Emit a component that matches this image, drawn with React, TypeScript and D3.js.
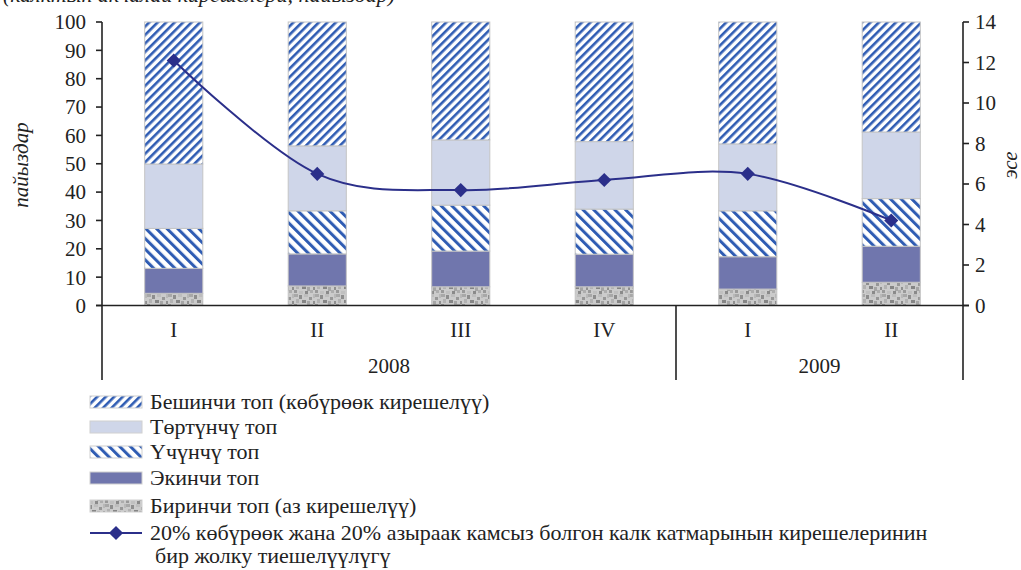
import React from "react";
import * as d3 from "d3";

const width = 1021;
const height = 570;
const plot = { left: 102, right: 963, top: 22, bottom: 305.5 };

// categories
const quarters = ["I", "II", "III", "IV", "I", "II"];
const years = [
  { label: "2008", span: 4 },
  { label: "2009", span: 2 },
];

// shares by quintile, percent (bottom to top)
const group1 = [4.3, 6.9, 6.6, 6.6, 5.8, 8.2];
const group2 = [8.8, 11.3, 12.6, 11.5, 11.4, 12.7];
const group3 = [14.1, 15.2, 16.2, 15.9, 16.2, 16.8];
const group4 = [22.7, 22.9, 23.0, 23.8, 23.6, 23.5];
const group5 = [50.1, 43.7, 41.6, 42.2, 43.0, 38.8];

// top 20% / bottom 20% income ratio, times
const ratio = [12.1, 6.5, 5.7, 6.2, 6.5, 4.2];

const leftTicks = [0, 10, 20, 30, 40, 50, 60, 70, 80, 90, 100];
const rightTicks = [0, 2, 4, 6, 8, 10, 12, 14];

const keys = ["g1", "g2", "g3", "g4", "g5"];
const fills = {
  g1: "url(#granite)",
  g2: "#7076ad",
  g3: "url(#stripeBack)",
  g4: "#cfd6e9",
  g5: "url(#stripeFwd)",
};

const legendItems = [
  { key: "g5", text: "Бешинчи топ (көбүрөөк кирешелүү)" },
  { key: "g4", text: "Төртүнчү топ" },
  { key: "g3", text: "Үчүнчү топ" },
  { key: "g2", text: "Экинчи топ" },
  { key: "g1", text: "Биринчи топ (аз кирешелүү)" },
];
const lineLegend = [
  "20% көбүрөөк жана 20% азыраак камсыз болгон калк катмарынын кирешелеринин",
  "бир жолку тиешелүүлүгү",
];

const font = "'Liberation Serif', 'Times New Roman', serif";
const lineColor = "#2b2f8a";

// granite texture pieces (fixed)
const granite = [
  [0, 0, 4, 3, "#a8a8a8"], [5, 1, 3, 4, "#8e8e8e"], [10, 0, 4, 3, "#bdbdbd"],
  [15, 3, 3, 3, "#979797"], [2, 5, 3, 4, "#b2b2b2"], [8, 6, 4, 3, "#858585"],
  [13, 7, 3, 4, "#a5a5a5"], [0, 10, 3, 3, "#999"], [5, 11, 4, 3, "#c0c0c0"],
  [11, 11, 3, 3, "#8a8a8a"], [16, 10, 3, 3, "#adadad"], [19, 0, 2, 4, "#b8b8b8"],
  [19, 7, 2, 3, "#8f8f8f"],
];

export default function App() {
  const rows = quarters.map((q, i) => ({
    g1: group1[i], g2: group2[i], g3: group3[i], g4: group4[i], g5: group5[i],
  }));
  const series = d3.stack().keys(keys)(rows as any);

  const x = d3
    .scaleBand()
    .domain(quarters.map((_, i) => String(i)))
    .range([plot.left, plot.right])
    .paddingInner(0.595)
    .paddingOuter(0.2975);
  const band = (plot.right - plot.left) / quarters.length;
  const y = d3.scaleLinear().domain([0, 100]).range([plot.bottom, plot.top]);
  const y2 = d3.scaleLinear().domain([0, 14]).range([plot.bottom, plot.top]);

  const line = d3
    .line<number>()
    .x((_, i) => (x(String(i)) as number) + x.bandwidth() / 2)
    .y((d) => y2(d))
    .curve(d3.curveCardinal.tension(0));

  const axisBottom = 380;
  let acc = 0;
  const yearPos = years.map((yr) => {
    const start = acc;
    acc += yr.span;
    return { ...yr, start, end: acc };
  });

  const legendX = 90;
  const legendRows = [402, 427, 452, 478, 506];

  return (
    <div style={{ position: "absolute", left: 0, top: 0 }}>
      <svg width={width} height={height} style={{ display: "block", background: "#fff" }}>
        <defs>
          <pattern id="stripeFwd" patternUnits="userSpaceOnUse" width="6" height="6" patternTransform="rotate(45)">
            <rect width="6" height="6" fill="#fff" />
            <rect width="2.6" height="6" fill="#2f5cb3" />
          </pattern>
          <pattern id="stripeBack" patternUnits="userSpaceOnUse" width="7.5" height="7.5" patternTransform="rotate(-45)">
            <rect width="7.5" height="7.5" fill="#fff" />
            <rect width="3" height="7.5" fill="#2f5cb3" />
          </pattern>
          <pattern id="granite" patternUnits="userSpaceOnUse" width="21" height="14">
            <rect width="21" height="14" fill="#cbcbcb" />
            {granite.map((g, i) => (
              <rect key={i} x={g[0] as number} y={g[1] as number} width={g[2] as number} height={g[3] as number} fill={g[4] as string} />
            ))}
          </pattern>
        </defs>

        {/* title, cut off at the top edge as in the source */}
        <text x={3} y={2} fontFamily={font} fontStyle="italic" fontSize={22} fill="#222">
          (калктын акчалай кирешелери, пайыздар)
        </text>

        {/* bars */}
        {series.map((s) => (
          <g key={s.key}>
            {s.map((d, i) => (
              <rect
                key={i}
                x={x(String(i))}
                y={y(d[1])}
                width={x.bandwidth()}
                height={y(d[0]) - y(d[1])}
                fill={fills[s.key]}
                stroke="#c4c4c4"
                strokeWidth={1}
              />
            ))}
          </g>
        ))}

        {/* ratio line */}
        <path d={line(ratio) || ""} fill="none" stroke={lineColor} strokeWidth={2} />
        {ratio.map((v, i) => {
          const cx = (x(String(i)) as number) + x.bandwidth() / 2;
          return (
            <rect key={i} x={cx - 5} y={y2(v) - 5} width={10} height={10} fill={lineColor}
              transform={`rotate(45 ${cx} ${y2(v)})`} />
          );
        })}

        {/* axes */}
        <g stroke="#222" strokeWidth={1.6}>
          <line x1={plot.left} x2={plot.left} y1={plot.top} y2={axisBottom} />
          <line x1={plot.right} x2={plot.right} y1={plot.top} y2={axisBottom} />
          <line x1={plot.left - 6} x2={plot.right + 6} y1={plot.bottom} y2={plot.bottom} />
          <line x1={plot.left + 4 * band} x2={plot.left + 4 * band} y1={plot.bottom} y2={axisBottom} />
          {leftTicks.map((t) => (
            <line key={t} x1={plot.left - 6} x2={plot.left} y1={y(t)} y2={y(t)} />
          ))}
          {rightTicks.map((t) => (
            <line key={t} x1={plot.right} x2={plot.right + 6} y1={y2(t)} y2={y2(t)} />
          ))}
        </g>
        <g fontFamily={font} fontSize={21} fill="#222">
          {leftTicks.map((t) => (
            <text key={t} x={86} y={y(t)} dy="0.35em" textAnchor="end">{t}</text>
          ))}
          {rightTicks.map((t) => (
            <text key={t} x={975} y={y2(t)} dy="0.35em">{t}</text>
          ))}
          {quarters.map((q, i) => (
            <text key={i} x={(x(String(i)) as number) + x.bandwidth() / 2} y={337} textAnchor="middle">{q}</text>
          ))}
          {yearPos.map((yr) => (
            <text key={yr.label} x={plot.left + ((yr.start + yr.end) / 2) * band} y={373} textAnchor="middle">{yr.label}</text>
          ))}
        </g>
        <text transform={`translate(28,165) rotate(-90)`} textAnchor="middle" fontFamily={font} fontStyle="italic" fontSize={21} fill="#222">
          пайыздар
        </text>
        <text transform={`translate(1017,165) rotate(-90)`} textAnchor="middle" fontFamily={font} fontStyle="italic" fontSize={21} fill="#222">
          эсе
        </text>

        {/* legend */}
        <g fontFamily={font} fontSize={20} fill="#222">
          {legendItems.map((it, i) => (
            <g key={it.key}>
              <rect x={legendX} y={legendRows[i] - 6} width={52} height={12} fill={fills[it.key]} stroke="#d0d0d0" strokeWidth={1} />
              <text transform={`translate(150,${legendRows[i]}) scale(1.1,1)`} dy="0.35em">{it.text}</text>
            </g>
          ))}
          <line x1={legendX} x2={legendX + 52} y1={533} y2={533} stroke={lineColor} strokeWidth={2} />
          <rect x={legendX + 21} y={528} width={10} height={10} fill={lineColor} transform={`rotate(45 ${legendX + 26} 533)`} />
          <text transform="translate(150,533) scale(1.1,1)" dy="0.35em">{lineLegend[0]}</text>
          <text transform="translate(155,556) scale(1.1,1)" dy="0.35em">{lineLegend[1]}</text>
        </g>
      </svg>
    </div>
  );
}
